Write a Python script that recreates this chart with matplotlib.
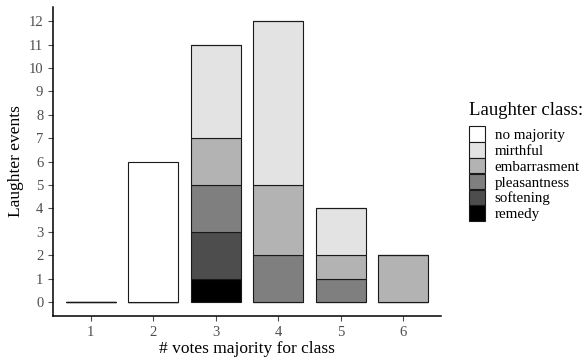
import matplotlib.pyplot as plt
from matplotlib.patches import Patch

categories = [1, 2, 3, 4, 5, 6]
classes = ['remedy', 'softening', 'pleasantness', 'embarrasment', 'mirthful', 'no majority']
counts = {
    'remedy':       [0, 0, 1, 0, 0, 0],
    'softening':    [0, 0, 2, 0, 0, 0],
    'pleasantness': [0, 0, 2, 2, 1, 0],
    'embarrasment': [0, 0, 2, 3, 1, 2],
    'mirthful':     [0, 0, 4, 7, 2, 0],
    'no majority':  [0, 6, 0, 0, 0, 0],
}
colors = {
    'remedy': '#000000',
    'softening': '#4d4d4d',
    'pleasantness': '#7f7f7f',
    'embarrasment': '#b3b3b3',
    'mirthful': '#e3e3e3',
    'no majority': '#ffffff',
}

plt.rcParams['font.family'] = ['Liberation Serif', 'DejaVu Serif']

fig = plt.figure(figsize=(5.85, 3.63), dpi=100)
ax = fig.add_axes([0.0906, 0.1295, 0.6624, 0.851])

bottom = [0] * len(categories)
for c in classes:
    vals = counts[c]
    ax.bar(categories, vals, width=0.8, bottom=bottom, color=colors[c],
           edgecolor='#1a1a1a', linewidth=0.8)
    bottom = [b + v for b, v in zip(bottom, vals)]

ax.set_xlim(0.4, 6.6)
ax.set_ylim(-0.6, 12.6)
ax.set_xticks(categories)
ax.set_yticks(range(0, 13))
ax.tick_params(colors='#4d4d4d', labelsize=10.5, length=3.5, width=0.8)
for s in ['top', 'right']:
    ax.spines[s].set_visible(False)
for s in ['left', 'bottom']:
    ax.spines[s].set_linewidth(1.1)
ax.set_xlabel('# votes majority for class', fontsize=12.5, labelpad=2)
ax.set_ylabel('Laughter events', fontsize=12.5, labelpad=3)

handles = [Patch(facecolor=colors[c], edgecolor='#1a1a1a', linewidth=0.8, label=c)
           for c in classes[::-1]]
fig.text(0.802, 1 - 115 / 363, 'Laughter class:', fontsize=13.5, va='baseline', ha='left')
leg = fig.legend(handles=handles, loc='upper left',
                 bbox_to_anchor=(0.802, 1 - 126 / 363), frameon=False, fontsize=10.8,
                 handlelength=1.05, handleheight=1.23,
                 handletextpad=0.65, labelspacing=0.0, borderaxespad=0,
                 borderpad=0)

fig.savefig('out.png', dpi=100)
